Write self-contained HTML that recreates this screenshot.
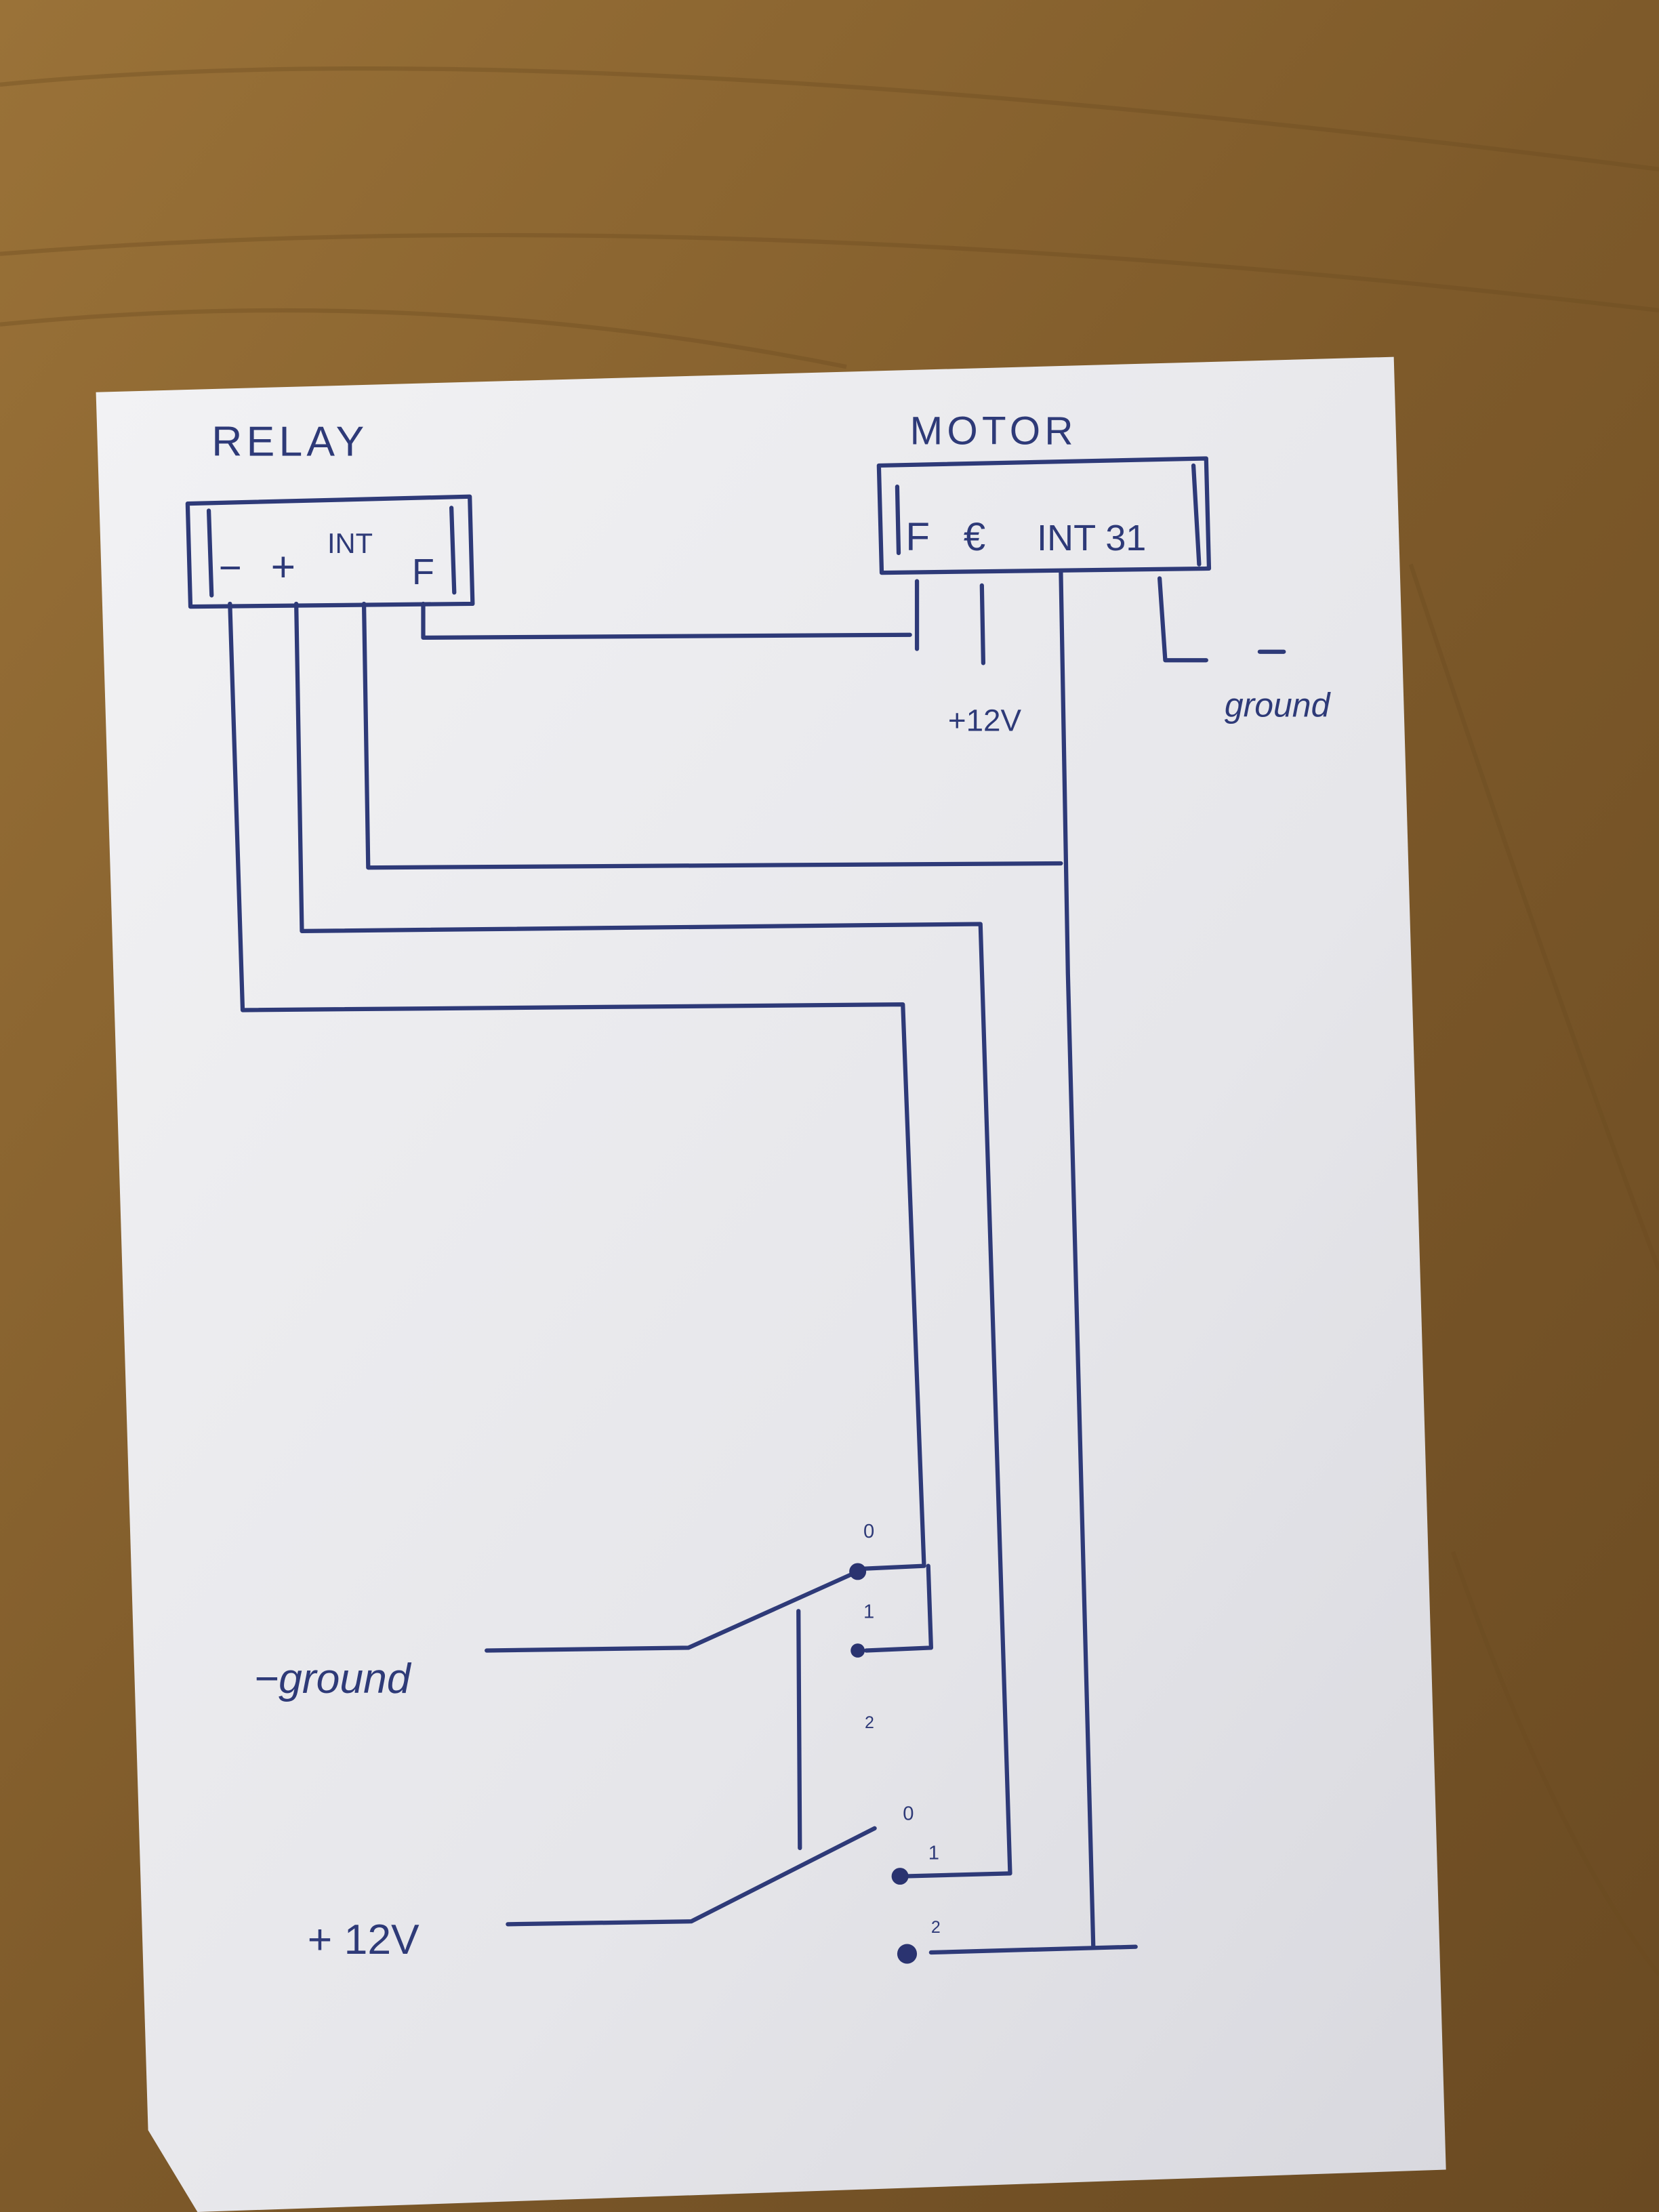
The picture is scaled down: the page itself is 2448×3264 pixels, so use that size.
<!DOCTYPE html>
<html><head><meta charset="utf-8"><style>
html,body{margin:0;padding:0;width:2448px;height:3264px;overflow:hidden;background:#8a6430}
svg{display:block}
</style></head><body>
<svg width="2448" height="3264" viewBox="0 0 1176 1568" xmlns="http://www.w3.org/2000/svg">
<defs>
<linearGradient id="wood" x1="0" y1="0" x2="1" y2="1">
<stop offset="0" stop-color="#9a7238"/><stop offset="0.5" stop-color="#7e5a2a"/><stop offset="1" stop-color="#6a4a22"/>
</linearGradient>
<linearGradient id="paper" x1="0" y1="0" x2="1" y2="1">
<stop offset="0" stop-color="#f2f2f4"/><stop offset="0.6" stop-color="#e6e6ea"/><stop offset="1" stop-color="#d8d8de"/>
</linearGradient>
</defs>
<rect width="1176" height="1568" fill="url(#wood)"/>
<g stroke="#6b4a1f" stroke-width="3" opacity="0.35" fill="none">
<path d="M0 60 Q400 20 1176 120"/><path d="M0 180 Q500 140 1176 220"/><path d="M0 230 Q300 200 600 260"/>
<path d="M1000 400 Q1100 700 1176 900"/><path d="M1030 1100 Q1100 1300 1176 1400"/>
</g>
<polygon points="68,278 988,253 1025,1538 140,1568 105,1510" fill="url(#paper)"/>
<g stroke="#2e3a78" stroke-width="3" fill="none" stroke-linecap="round" stroke-linejoin="round">
<!-- relay box -->
<path d="M133,357 L333,352 L335,428 L135,430 Z"/>
<path d="M148,362 L150,422"/><path d="M320,360 L322,420"/>
<!-- motor box -->
<path d="M623,330 L855,325 L857,403 L625,406 Z"/>
<path d="M636,345 L637,392"/><path d="M846,330 L850,400"/>
<!-- F line -->
<path d="M300,428 L300,452 L645,450"/><path d="M650,412 L650,460"/>
<!-- +12V motor -->
<path d="M696,415 L697,470"/>
<!-- INT motor -->
<path d="M752,405 L757,690 L775,1380"/><path d="M660,1384 L805,1380"/>
<!-- 31 -->
<path d="M822,410 L826,468 L855,468"/><path d="M893,462 L910,462"/>
<!-- relay INT -->
<path d="M258,428 L261,615 L752,612"/>
<!-- relay + -->
<path d="M210,428 L214,660 L695,655 L716,1328 L640,1330"/>
<!-- relay - -->
<path d="M163,428 L172,716 L640,712 L655,1110 L612,1112"/>
<!-- top switch -->
<path d="M345,1170 L488,1168 L608,1114"/>
<path d="M614,1170 L660,1168 L658,1110"/>
<path d="M566,1142 L567,1310"/>
<!-- bottom switch -->
<path d="M360,1364 L490,1362 L620,1296"/>
</g>
<g fill="#2a3370">
<circle cx="608" cy="1114" r="6"/><circle cx="608" cy="1170" r="5"/>
<circle cx="638" cy="1330" r="6"/><circle cx="643" cy="1385" r="7"/>
</g>
<g fill="#2e3a78" font-family="Liberation Sans, sans-serif">
<text x="150" y="323" font-size="30" letter-spacing="3">RELAY</text>
<text x="645" y="315" font-size="28" letter-spacing="3">MOTOR</text>
<text x="155" y="412" font-size="28">−</text>
<text x="192" y="412" font-size="30">+</text>
<text x="232" y="392" font-size="20">INT</text>
<text x="292" y="414" font-size="26">F</text>
<text x="642" y="390" font-size="28">F</text>
<text x="683" y="390" font-size="28">€</text>
<text x="735" y="390" font-size="26">INT 31</text>
<text x="672" y="518" font-size="22">+12V</text>
<text x="868" y="508" font-size="24" font-style="italic">ground</text>
<text x="180" y="1200" font-size="30" font-style="italic">−ground</text>
<text x="218" y="1385" font-size="30">+ 12V</text>
<text x="612" y="1090" font-size="14">0</text>
<text x="612" y="1147" font-size="14">1</text>
<text x="613" y="1225" font-size="12">2</text>
<text x="640" y="1290" font-size="14">0</text>
<text x="658" y="1318" font-size="14">1</text>
<text x="660" y="1370" font-size="12">2</text>
</g>
</svg>
</body></html>
